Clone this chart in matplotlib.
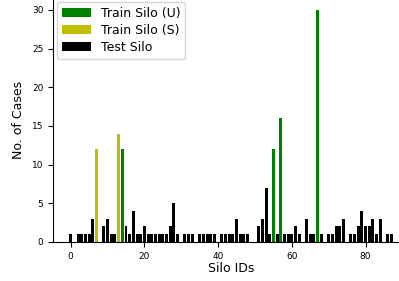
import matplotlib
matplotlib.use("Agg")
import matplotlib.pyplot as plt

# silos used for training (unsupervised / supervised) and test silos
train_u_ids = [14, 55, 57, 67]
train_u_counts = [12, 12, 16, 30]
train_s_ids = [7, 13]
train_s_counts = [12, 14]
test_ids = [0, 2, 3, 4, 5, 6, 9, 10, 11, 12, 15, 16, 17, 18, 19, 20, 21, 22,
            23, 24, 25, 26, 27, 28, 29, 31, 32, 33, 35, 36, 37, 38, 39, 41,
            42, 43, 44, 45, 46, 47, 48, 51, 52, 53, 54, 56, 58, 59, 60, 61,
            62, 64, 65, 66, 68, 70, 71, 72, 73, 74, 76, 77, 78, 79, 80, 81,
            82, 83, 84, 86, 87]
test_counts = [1, 1, 1, 1, 1, 3, 2, 3, 1, 1, 2, 1, 4, 1, 1, 2, 1, 1,
               1, 1, 1, 1, 2, 5, 1, 1, 1, 1, 1, 1, 1, 1, 1, 1,
               1, 1, 1, 3, 1, 1, 1, 2, 3, 7, 1, 1, 1, 1, 1, 2,
               1, 3, 1, 1, 1, 1, 1, 2, 2, 3, 1, 1, 2, 4, 2, 2,
               3, 1, 3, 1, 1]

fig = plt.figure(figsize=(3.99, 2.81), dpi=100)
ax = fig.add_axes([0.133, 0.139, 0.892, 0.867])

ax.bar(train_u_ids, train_u_counts, color='g', label='Train Silo (U)')
ax.bar(train_s_ids, train_s_counts, color='y', label='Train Silo (S)')
ax.bar(test_ids, test_counts, color='k', label='Test Silo')

ax.spines['right'].set_visible(False)
ax.spines['top'].set_visible(False)
ax.set_xlabel('Silo IDs', fontsize=9, labelpad=1)
ax.set_ylabel('No. of Cases', fontsize=9, labelpad=5)
ax.set_xticks([0, 20, 40, 60, 80])
ax.set_yticks([0, 5, 10, 15, 20, 25, 30])
ax.tick_params(labelsize=6.5)
ax.legend(loc='upper left', fontsize=9, handlelength=2.3, labelspacing=0.3,
          borderaxespad=0.3)

plt.savefig("out.png", dpi=100)
